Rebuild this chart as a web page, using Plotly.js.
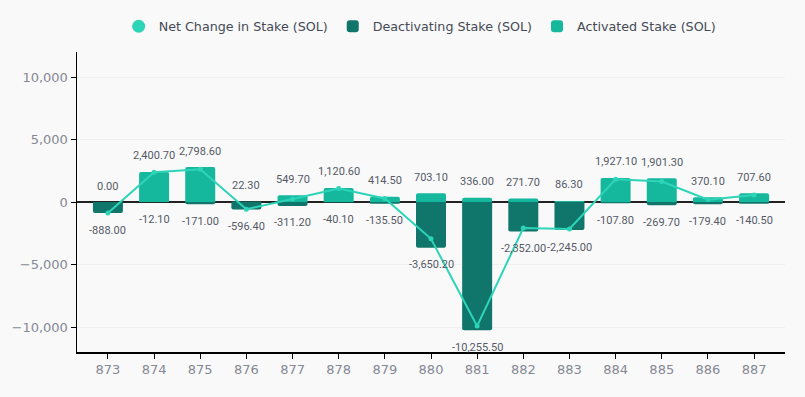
<!DOCTYPE html>
<html><head><meta charset="utf-8">
<script src="https://cdn.plot.ly/plotly-3.0.1.min.js"></script>
<style>html,body{margin:0;padding:0;background:#f9f9f9}#chart{width:805px;height:397px}</style>
</head><body><div id="chart"></div>
<script>
const epochs = ["873","874","875","876","877","878","879","880","881","882","883","884","885","886","887"];
const activated = [0, 2400.7, 2798.6, 22.3, 549.7, 1120.6, 414.5, 703.1, 336.0, 271.7, 86.3, 1927.1, 1901.3, 370.1, 707.6];
const deactivating = [-888.0, -12.1, -171.0, -596.4, -311.2, -40.1, -135.5, -3650.2, -10255.5, -2352.0, -2245.0, -107.8, -269.7, -179.4, -140.5];
const netChange = [-888.0, 2388.6, 2627.6, -574.1, 238.5, 1080.5, 279.0, -2947.1, -9919.5, -2080.3, -2158.7, 1819.3, 1631.6, 190.7, 567.1];

const C_ACT = '#16b89d', C_DEACT = '#10756a', C_NET = '#2dd4b8';
const fmt = v => v.toLocaleString('en-US', {minimumFractionDigits: 2, maximumFractionDigits: 2});

const barTraces = [
  {type:'bar', x:epochs, y:deactivating, name:'Deactivating Stake (SOL)', marker:{color:C_DEACT},
   width:0.65, legendrank:2, hoverinfo:'skip'},
  {type:'bar', x:epochs, y:activated, name:'Activated Stake (SOL)', marker:{color:C_ACT},
   width:0.65, legendrank:3, hoverinfo:'skip'}
];
const lineTraces = [
  {type:'scatter', mode:'lines+markers', x:epochs, y:netChange, name:'Net Change in Stake (SOL)',
   line:{color:C_NET, width:2}, marker:{color:C_NET, size:5}, showlegend:false, hoverinfo:'skip'},
  {type:'scatter', mode:'markers', x:[null], y:[null], name:'Net Change in Stake (SOL)',
   marker:{color:C_NET, size:13, symbol:'circle'}, legendrank:1}
];
const data = barTraces.concat(lineTraces);

const labelFont = {family:'Roboto, sans-serif', size:11, color:'#555a66'};
const annotations = [];
epochs.forEach((e,i)=>{
  annotations.push({xref:'x', yref:'y', x:i, y:activated[i], text:fmt(activated[i]), showarrow:false,
    yshift:16, font:labelFont});
  annotations.push({xref:'x', yref:'y', x:i, y:deactivating[i], text:fmt(deactivating[i]), showarrow:false,
    yshift:-17, font:labelFont});
});

const tickFont = {family:'DejaVu Sans, sans-serif', size:13, color:'#858894'};
const layout = {
  width:805, height:397,
  paper_bgcolor:'#f9f9f9', plot_bgcolor:'#f9f9f9',
  margin:{l:77, r:20, t:52, b:45},
  barmode:'relative', barcornerradius:2,
  showlegend:true,
  legend:{orientation:'h', x:0.484, xanchor:'center', y:1.085, yanchor:'middle',
    font:{family:'DejaVu Sans, sans-serif', size:12.7, color:'#454a56'}, traceorder:'normal',
    itemwidth:30, bgcolor:'rgba(0,0,0,0)'},
  font:{family:'DejaVu Sans, sans-serif'},
  xaxis:{type:'category', range:[-0.67, 14.67], showline:true, linecolor:'#000', linewidth:1.5,
    ticks:'outside', ticklen:5, tickcolor:'#000', showgrid:false, zeroline:false, tickfont:tickFont},
  yaxis:{range:[-12000, 12000], tickvals:[-10000,-5000,0,5000,10000], tickformat:',d',
    showline:true, linecolor:'#000', linewidth:1.5, ticks:'outside', ticklen:5, tickcolor:'#000',
    showgrid:true, gridcolor:'#f0f0f0', gridwidth:1, zeroline:true, zerolinecolor:'#222', zerolinewidth:1.2,
    tickfont:tickFont},
  annotations:annotations,
  hovermode:false
};
Plotly.newPlot('chart', data, layout, {displayModeBar:false, staticPlot:true});
</script></body></html>
